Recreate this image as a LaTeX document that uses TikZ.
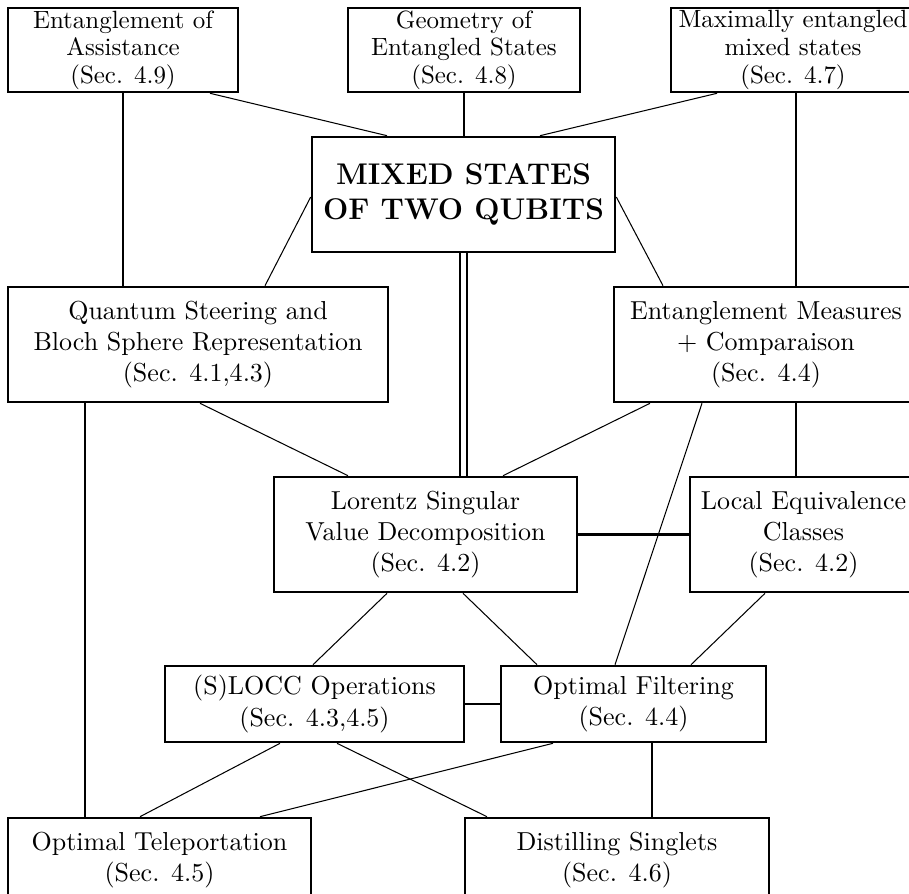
\documentclass[tikz,border=0pt]{standalone}
\usetikzlibrary{calc}
\begin{document}
\begin{tikzpicture}[x=0.3846pt,y=-0.3846pt,
  box/.style={draw,line width=1pt,inner sep=0pt,align=center,font=\fontsize{10}{12}\selectfont},
  topbox/.style={box,font=\fontsize{9.6}{10.6}\selectfont},
  bigbox/.style={box,font=\fontsize{11.5}{13.5}\selectfont\bfseries},
  vline/.style={line width=0.8pt},
  dline/.style={line width=0.4pt},
  dbl/.style={double,line width=0.6pt,double distance=2pt}]
\clip (0,0) rectangle (909,893);
% top row
\node[topbox,minimum width={230*0.3846pt},minimum height={84*0.3846pt}] (eoa) at (123,50) {Entanglement of\\Assistance\\(Sec. 4.9)};
\node[topbox,minimum width={232*0.3846pt},minimum height={84*0.3846pt}] (geo) at (464,50) {Geometry of\\Entangled States\\(Sec. 4.8)};
\node[topbox,minimum width={244*0.3846pt},minimum height={84*0.3846pt}] (mems) at (793,50) {Maximally entangled\\mixed states\\(Sec. 4.7)};
% centre
\node[bigbox,minimum width={303*0.3846pt},minimum height={115*0.3846pt}] (mix) at (463.5,194.5) {MIXED STATES\\OF TWO QUBITS};
% second row
\node[box,minimum width={380*0.3846pt},minimum height={115*0.3846pt}] (qs) at (198,344.5) {Quantum Steering and\\Bloch Sphere Representation\\(Sec. 4.1,4.3)};
\node[box,minimum width={304*0.3846pt},minimum height={115*0.3846pt}] (em) at (766,344.5) {Entanglement Measures\\+ Comparaison\\(Sec. 4.4)};
% third row
\node[box,minimum width={303*0.3846pt},minimum height={115*0.3846pt}] (lsvd) at (425.5,534.5) {Lorentz Singular\\Value Decomposition\\(Sec. 4.2)};
\node[box,minimum width={227*0.3846pt},minimum height={115*0.3846pt}] (lec) at (803.5,534.5) {Local Equivalence\\Classes\\(Sec. 4.2)};
% fourth row
\node[box,minimum width={299*0.3846pt},minimum height={76*0.3846pt}] (slocc) at (314.5,704) {(S)LOCC Operations\\(Sec. 4.3,4.5)};
\node[box,minimum width={265*0.3846pt},minimum height={76*0.3846pt}] (of) at (633.5,704) {Optimal Filtering\\(Sec. 4.4)};
% bottom row
\node[box,minimum width={303*0.3846pt},minimum height={84*0.3846pt}] (ot) at (159.5,860) {Optimal Teleportation\\(Sec. 4.5)};
\node[box,minimum width={304*0.3846pt},minimum height={84*0.3846pt}] (ds) at (617,860) {Distilling Singlets\\(Sec. 4.6)};
% connectors
\draw[vline] (eoa.south) -- (eoa.south |- qs.north);
\draw[dline] ($(eoa.south)+(87,0)$) -- ($(mix.north)+(-76.5,0)$);
\draw[vline] (geo.south) -- (geo.south |- mix.north);
\draw[dline] ($(mems.south)+(-76,0)$) -- ($(mix.north)+(76.5,0)$);
\draw[vline] ($(mems.south)+(3,0)$) coordinate (mv) -- (mv |- em.north);
\draw[dline] ($(mix.west)+(0,2.5)$) -- ($(qs.north)+(67,0)$);
\draw[dline] ($(mix.east)+(0,2.5)$) -- ($(em.north)+(-103,0)$);
\draw[dbl] (mix.south) -- (mix.south |- lsvd.north);
\draw[dline] ($(qs.south)+(2,0)$) -- ($(lsvd.north)+(-77.5,0)$);
\draw[dline] ($(em.south)+(-116,0)$) -- ($(lsvd.north)+(77.5,0)$);
\draw[vline] ($(em.south)+(30,0)$) coordinate (emv) -- (emv |- lec.north);
\draw[dline] ($(em.south)+(-64,0)$) -- ($(of.north)+(-18.5,0)$);
\draw[vline] (lsvd.east) -- (lsvd.east -| lec.west);
\draw[dline] ($(lsvd.south)+(-38.5,0)$) -- ($(slocc.north)+(-1.5,0)$);
\draw[dline] ($(lsvd.south)+(37.5,0)$) -- ($(of.north)+(-96.5,0)$);
\draw[dline] ($(lec.south)+(-38.5,0)$) -- ($(of.north)+(57.5,0)$);
\draw[vline] ($(qs.south)+(-113,0)$) coordinate (qsv) -- (qsv |- ot.north);
\draw[vline] (slocc.east) -- (of.west);
\draw[dline] ($(slocc.south)+(-34.5,0)$) -- ($(ot.north)+(-19.5,0)$);
\draw[dline] ($(slocc.south)+(22.5,0)$) -- ($(ds.north)+(-130,0)$);
\draw[dline] ($(of.south)+(-80.5,0)$) -- ($(ot.north)+(100.5,0)$);
\draw[vline] ($(of.south)+(18.5,0)$) coordinate (ofv) -- (ofv |- ds.north);
\end{tikzpicture}
\end{document}
